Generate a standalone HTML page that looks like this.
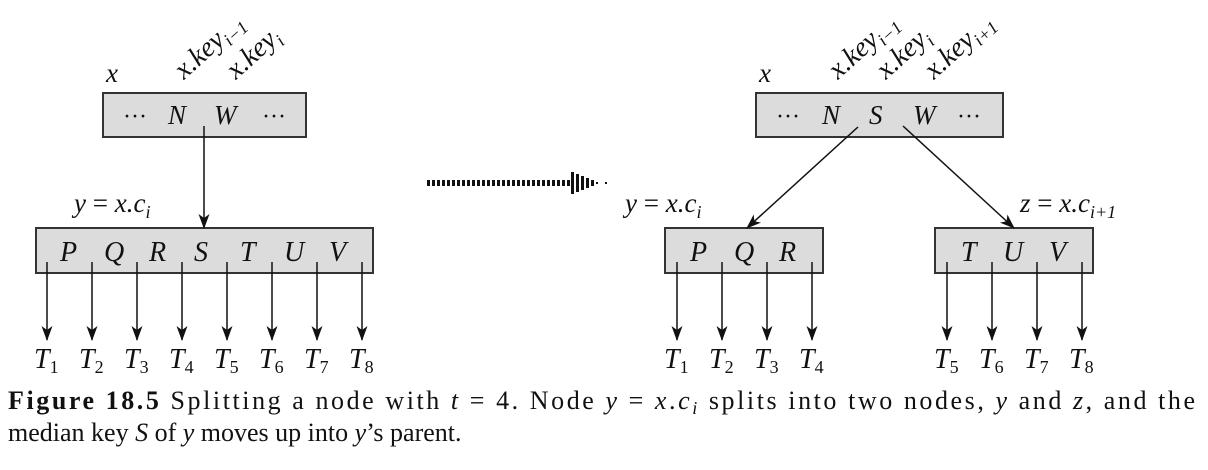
<!DOCTYPE html>
<html><head><meta charset="utf-8"><style>
body{margin:0;background:#fff}
svg{display:block}
text{font-family:"Liberation Serif","Times New Roman",serif;fill:#111}
.i{font-style:italic}
</style></head><body>
<svg width="1208" height="470" viewBox="0 0 1208 470" xmlns="http://www.w3.org/2000/svg" font-family="Liberation Serif, serif">
<defs>
<marker id="a" markerWidth="15" markerHeight="11" refX="14" refY="5.5" orient="auto" markerUnits="userSpaceOnUse" viewBox="0 0 15 11">
<path d="M0,0 L15,5.5 L0,11 L4,5.5 Z" fill="#111"/>
</marker>
</defs>
<g stroke="#333" stroke-width="2" fill="#dcdcdc">
<rect x="103" y="93" width="203" height="44"/>
<rect x="36" y="228" width="337" height="45"/>
<rect x="756" y="93" width="247" height="44"/>
<rect x="665" y="228" width="158" height="45"/>
<rect x="935" y="228" width="158" height="45"/>
</g>
<text x="123" y="124" style="font-size:24px">···</text>
<text class="i" x="168" y="124" style="font-size:27px">N</text>
<text class="i" x="214" y="124" style="font-size:27px">W</text>
<text x="262" y="124" style="font-size:24px">···</text>
<text class="i" x="106" y="82" style="font-size:27px">x</text>
<text class="i" style="font-size:28px" transform="translate(184,80) rotate(-42)">x.key<tspan style="font-size:18px" dy="6">i−1</tspan></text>
<text class="i" style="font-size:28px" transform="translate(236,80) rotate(-42)">x.key<tspan style="font-size:18px" dy="6">i</tspan></text>
<text class="i" x="74" y="212" style="font-size:27px">y <tspan style="font-style:normal">=</tspan> x.c<tspan style="font-size:18px" dy="6">i</tspan></text>
<g class="i" style="font-size:28px">
<text x="60" y="261">P</text><text x="104" y="261">Q</text><text x="149" y="261">R</text><text x="194" y="261">S</text><text x="240" y="261">T</text><text x="284" y="261">U</text><text x="329" y="261">V</text>
</g>
<g stroke="#111" stroke-width="1.5">
<line x1="204" y1="126" x2="204" y2="228" marker-end="url(#a)"/>
<line x1="47" y1="262" x2="47" y2="340" marker-end="url(#a)"/>
<line x1="92" y1="262" x2="92" y2="340" marker-end="url(#a)"/>
<line x1="137" y1="262" x2="137" y2="340" marker-end="url(#a)"/>
<line x1="182" y1="262" x2="182" y2="340" marker-end="url(#a)"/>
<line x1="227" y1="262" x2="227" y2="340" marker-end="url(#a)"/>
<line x1="272" y1="262" x2="272" y2="340" marker-end="url(#a)"/>
<line x1="317" y1="262" x2="317" y2="340" marker-end="url(#a)"/>
<line x1="362" y1="262" x2="362" y2="340" marker-end="url(#a)"/>
<line x1="677" y1="262" x2="677" y2="340" marker-end="url(#a)"/>
<line x1="722" y1="262" x2="722" y2="340" marker-end="url(#a)"/>
<line x1="767" y1="262" x2="767" y2="340" marker-end="url(#a)"/>
<line x1="812" y1="262" x2="812" y2="340" marker-end="url(#a)"/>
<line x1="947" y1="262" x2="947" y2="340" marker-end="url(#a)"/>
<line x1="992" y1="262" x2="992" y2="340" marker-end="url(#a)"/>
<line x1="1037" y1="262" x2="1037" y2="340" marker-end="url(#a)"/>
<line x1="1082" y1="262" x2="1082" y2="340" marker-end="url(#a)"/>
<line x1="858" y1="127" x2="747" y2="228" marker-end="url(#a)"/>
<line x1="903" y1="126" x2="1014" y2="228" marker-end="url(#a)"/>
</g>
<line x1="427" y1="183" x2="570" y2="183" stroke="#111" stroke-width="6" stroke-dasharray="3,2"/>
<g fill="#111">
<rect x="571" y="172" width="3" height="22"/><rect x="576" y="174" width="3" height="18"/><rect x="581" y="176" width="3" height="14"/><rect x="586" y="178" width="3" height="10"/><rect x="591" y="180" width="3" height="6"/><rect x="596" y="182" width="2" height="2"/><rect x="605" y="182" width="2" height="2"/>
</g>
<text x="776" y="124" style="font-size:24px">···</text>
<text class="i" x="822" y="124" style="font-size:27px">N</text>
<text class="i" x="869" y="124" style="font-size:27px">S</text>
<text class="i" x="913" y="124" style="font-size:27px">W</text>
<text x="957" y="124" style="font-size:24px">···</text>
<text class="i" x="759" y="82" style="font-size:27px">x</text>
<text class="i" style="font-size:28px" transform="translate(838,80) rotate(-42)">x.key<tspan style="font-size:18px" dy="6">i−1</tspan></text>
<text class="i" style="font-size:28px" transform="translate(886,80) rotate(-42)">x.key<tspan style="font-size:18px" dy="6">i</tspan></text>
<text class="i" style="font-size:28px" transform="translate(934,80) rotate(-42)">x.key<tspan style="font-size:18px" dy="6">i+1</tspan></text>
<text class="i" x="625" y="212" style="font-size:27px">y <tspan style="font-style:normal">=</tspan> x.c<tspan style="font-size:18px" dy="6">i</tspan></text>
<text class="i" x="1020" y="212" style="font-size:27px">z <tspan style="font-style:normal">=</tspan> x.c<tspan style="font-size:18px" dy="6">i+1</tspan></text>
<g class="i" style="font-size:28px">
<text x="690" y="261">P</text><text x="734" y="261">Q</text><text x="779" y="261">R</text>
<text x="961" y="261">T</text><text x="1003" y="261">U</text><text x="1049" y="261">V</text>
</g>
<g class="i" style="font-size:28px">
<text x="34" y="368">T<tspan style="font-style:normal;font-size:18px" dy="5">1</tspan></text>
<text x="79" y="368">T<tspan style="font-style:normal;font-size:18px" dy="5">2</tspan></text>
<text x="124" y="368">T<tspan style="font-style:normal;font-size:18px" dy="5">3</tspan></text>
<text x="169" y="368">T<tspan style="font-style:normal;font-size:18px" dy="5">4</tspan></text>
<text x="214" y="368">T<tspan style="font-style:normal;font-size:18px" dy="5">5</tspan></text>
<text x="259" y="368">T<tspan style="font-style:normal;font-size:18px" dy="5">6</tspan></text>
<text x="304" y="368">T<tspan style="font-style:normal;font-size:18px" dy="5">7</tspan></text>
<text x="349" y="368">T<tspan style="font-style:normal;font-size:18px" dy="5">8</tspan></text>
<text x="664" y="368">T<tspan style="font-style:normal;font-size:18px" dy="5">1</tspan></text>
<text x="709" y="368">T<tspan style="font-style:normal;font-size:18px" dy="5">2</tspan></text>
<text x="754" y="368">T<tspan style="font-style:normal;font-size:18px" dy="5">3</tspan></text>
<text x="799" y="368">T<tspan style="font-style:normal;font-size:18px" dy="5">4</tspan></text>
<text x="934" y="368">T<tspan style="font-style:normal;font-size:18px" dy="5">5</tspan></text>
<text x="979" y="368">T<tspan style="font-style:normal;font-size:18px" dy="5">6</tspan></text>
<text x="1024" y="368">T<tspan style="font-style:normal;font-size:18px" dy="5">7</tspan></text>
<text x="1069" y="368">T<tspan style="font-style:normal;font-size:18px" dy="5">8</tspan></text>
</g>
<text x="8" y="409" style="font-size:26px" textLength="1187" lengthAdjust="spacing"><tspan style="font-weight:bold">Figure 18.5</tspan>    Splitting a node with <tspan style="font-style:italic">t</tspan> = 4. Node <tspan style="font-style:italic">y</tspan> = <tspan style="font-style:italic">x</tspan>.<tspan style="font-style:italic">c</tspan><tspan style="font-style:italic;font-size:18px" dy="5">i</tspan><tspan dy="-5"> splits into two nodes, </tspan><tspan style="font-style:italic">y</tspan> and <tspan style="font-style:italic">z</tspan>, and the</text>
<text x="8" y="441" style="font-size:26px">median key <tspan style="font-style:italic">S</tspan> of <tspan style="font-style:italic">y</tspan> moves up into <tspan style="font-style:italic">y</tspan>’s parent.</text>
</svg>
</body></html>
